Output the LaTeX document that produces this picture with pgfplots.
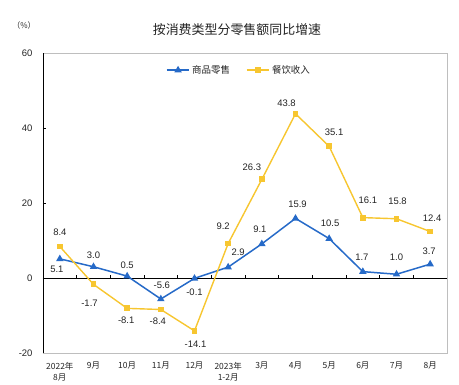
\documentclass[border=0pt]{standalone}
\usepackage{fontspec}
\setmainfont{Liberation Sans}
\newfontfamily\cjk{Noto Sans CJK SC}
\usepackage{pgfplots}
\usepackage{pgfplotstable}
\pgfplotsset{compat=1.18}
\definecolor{cblue}{RGB}{38,106,200}
\definecolor{cyel}{RGB}{247,198,48}
\definecolor{framec}{RGB}{190,190,190}
\definecolor{labc}{RGB}{35,35,35}

\pgfplotstableread{
x y
0 5.1
1 3.0
2 0.5
3 -5.6
4 -0.1
5 2.9
6 9.1
7 15.9
8 10.5
9 1.7
10 1.0
11 3.7
}\goods
\pgfplotstableread{
x y
0 8.4
1 -1.7
2 -8.1
3 -8.4
4 -14.1
5 9.2
6 26.3
7 43.8
8 35.1
9 16.1
10 15.8
11 12.4
}\food

\newcommand{\lab}[4]{\node[font=\fontsize{9.5}{11}\selectfont, text=labc, inner sep=0pt, xshift=#3bp, yshift=#4bp] at (axis cs:#1,#2) {#2};}

\begin{document}
\begin{tikzpicture}
\useasboundingbox (-43bp,-32bp) rectangle (416bp,353bp);
\begin{axis}[
  at={(0,0)}, anchor=south west,
  scale only axis, width=404bp, height=300bp,
  xmin=-0.5, xmax=11.5, ymin=-20, ymax=60,
  ytick={-20,0,20,40,60},
  xtick={0,...,11},
  xticklabels={{2022年\\8月},{9月},{10月},{11月},{12月},{2023年\\1-2月},{3月},{4月},{5月},{6月},{7月},{8月}},
  xticklabel style={align=center, font=\cjk\fontsize{8.5}{11}\selectfont, text=labc, inner sep=1bp, yshift=-8bp},
  yticklabel style={font=\fontsize{9.5}{11}\selectfont, text=labc, xshift=-7bp},
  /pgf/number format/assume math mode=true,
  x tick style={draw=none},
  ytick pos=left,
  tick align=inside,
  major tick length=3bp,
  y tick style={black},
  axis line style={framec},
  legend columns=2,
  legend style={draw=none, fill=none, at={(0.485,0.943)}, anchor=center,
    font=\cjk\fontsize{9.5}{11}\selectfont, text=labc,
    /tikz/every even column/.append style={column sep=14bp}},
  legend image code/.code={\draw[mark repeat=2,mark phase=2] plot coordinates {(0cm,0cm) (0.4cm,0cm) (0.8cm,0cm)};},
]
\draw[black, line width=0.6bp] (rel axis cs:0,0) -- (rel axis cs:0,1);
\draw[black, line width=0.9bp] (axis cs:-0.5,0) -- (axis cs:11.5,0);
\pgfplotsinvokeforeach{0.5,1.5,2.5,3.5,4.5,5.5,6.5,7.5,8.5,9.5,10.5}{\draw[black, line width=0.6bp] (axis cs:#1,0) -- (axis cs:#1,0.8);}
\addplot[cblue, line width=1.5bp, mark=triangle*, mark size=2.8bp] table[x=x,y=y]{\goods};
\addlegendentry{商品零售}
\addplot[cyel, line width=1.4bp, mark=square*, mark size=2.2bp] table[x=x,y=y]{\food};
\addlegendentry{餐饮收入}
\lab{0}{5.1}{-3}{-10}
\lab{1}{3.0}{0}{12}
\lab{2}{0.5}{0}{11}
\lab{3}{-5.6}{1}{14}
\lab{4}{-0.1}{0}{-14}
\lab{5}{2.9}{10}{15}
\lab{6}{9.1}{-2}{15}
\lab{7}{15.9}{2}{14}
\lab{8}{10.5}{1}{15}
\lab{9}{1.7}{-1}{14}
\lab{10}{1.0}{0}{17}
\lab{11}{3.7}{-1}{13}
\lab{0}{8.4}{0}{14}
\lab{1}{-1.7}{-4}{-19}
\lab{2}{-8.1}{-1}{-12}
\lab{3}{-8.4}{-3}{-12}
\lab{4}{-14.1}{1}{-13}
\lab{5}{9.2}{-5}{17}
\lab{6}{26.3}{-10}{12}
\lab{7}{43.8}{-9}{11}
\lab{8}{35.1}{5}{14}
\lab{9}{16.1}{5}{17}
\lab{10}{15.8}{1}{18}
\lab{11}{12.4}{2}{13}
\end{axis}
\node[font=\cjk\fontsize{13}{15}\selectfont, text=labc] at (194bp,323bp) {按消费类型分零售额同比增速};
\node[font=\cjk\fontsize{8}{10}\selectfont, text=labc] at (-19bp,328bp) {（\%）};
\end{tikzpicture}
\end{document}
